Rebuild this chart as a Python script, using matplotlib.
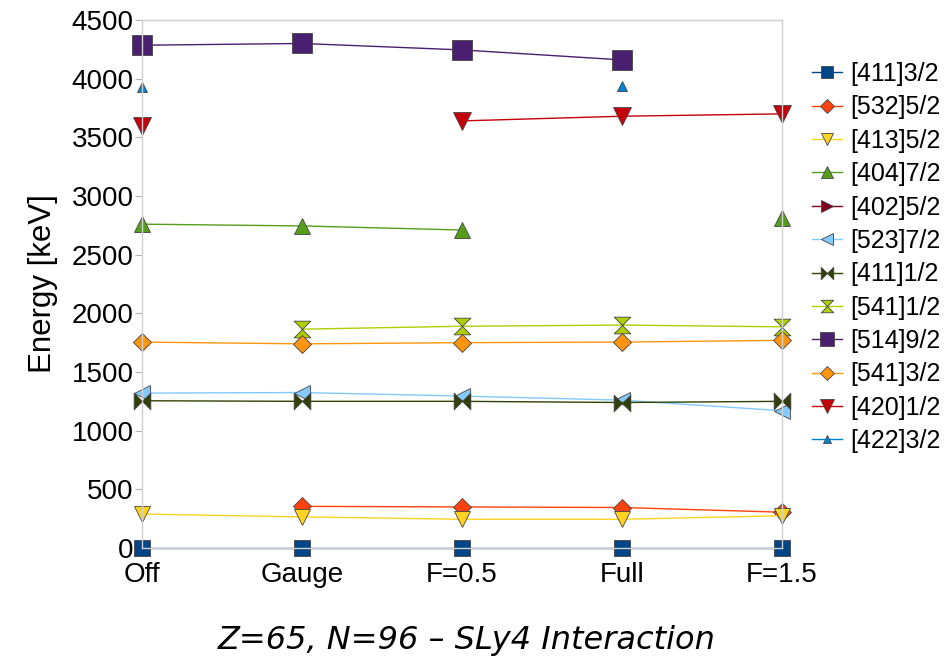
import numpy as np
import matplotlib
matplotlib.use('Agg')
import matplotlib.pyplot as plt
from matplotlib.path import Path

nan = np.nan
categories = ['Off', 'Gauge', 'F=0.5', 'Full', 'F=1.5']
labels = ['[411]3/2', '[532]5/2', '[413]5/2', '[404]7/2', '[402]5/2', '[523]7/2',
          '[411]1/2', '[541]1/2', '[514]9/2', '[541]3/2', '[420]1/2', '[422]3/2']
values = [
    [0, 0, 0, 0, 0],
    [nan, 355, 350, 345, 305],
    [290, 265, 245, 245, 275],
    [2760, 2745, 2710, nan, 2810],
    [nan, nan, nan, nan, nan],
    [1320, 1325, 1295, 1260, 1170],
    [1255, 1250, 1250, 1240, 1250],
    [nan, 1865, 1890, 1900, 1885],
    [4285, 4300, 4245, 4160, nan],
    [1755, 1740, 1750, 1755, 1770],
    [3600, nan, 3640, 3680, 3700],
    [3930, nan, nan, 3935, nan],
]
colors = ['#004586', '#ff420e', '#ffd320', '#579d1c', '#7e0021', '#83caff',
          '#314004', '#aecf00', '#4b1f6f', '#ff950e', '#c5000b', '#0084d1']

bowtie = Path([(-1, -1), (1, 1), (1, -1), (-1, 1), (-1, -1)],
              [Path.MOVETO, Path.LINETO, Path.LINETO, Path.LINETO, Path.CLOSEPOLY])
hourglass = Path([(-1, -1), (1, -1), (-1, 1), (1, 1), (-1, -1)],
                 [Path.MOVETO, Path.LINETO, Path.LINETO, Path.LINETO, Path.CLOSEPOLY])
markers = ['s', 'D', 'v', '^', '>', '<', bowtie, hourglass, 's', 'D', 'v', '^']
sizes = [11, 9, 12, 12, 12, 12, 12, 12, 14, 9, 13, 7]

plt.rcParams['font.family'] = ['Liberation Sans', 'DejaVu Sans']

fig = plt.figure(figsize=(9.53, 6.65), dpi=100)
ax = fig.add_axes([142 / 953, 1 - 548 / 665, (782 - 142) / 953, (548 - 20) / 665])

x = np.arange(len(categories))
for lab, vals, c, m, s in zip(labels, values, colors, markers, sizes):
    ax.plot(x, vals, color=c, lw=1, marker=m, ms=s, mfc=c, mec='#444444',
            mew=0.6, label=lab, clip_on=False)

ax.set_xlim(0, 4)
ax.set_ylim(0, 4500)
ax.set_yticks(range(0, 4501, 500))
ax.set_xticks(x)
ax.set_xticklabels(categories)
ax.tick_params(axis='y', labelsize=20, length=5, color='#b3b3b3', pad=1)
ax.tick_params(axis='x', labelsize=20, length=0, pad=10)
for sp in ax.spines.values():
    sp.set_color('#d0d0d0')
    sp.set_linewidth(1)
ax.set_ylabel('Energy [keV]', fontsize=22.5, labelpad=10)

leg = ax.legend(loc='upper left', frameon=False, fontsize=18, handlelength=1.2,
                handletextpad=0.35, labelspacing=0.375, borderaxespad=0,
                borderpad=0, markerscale=0.75)
leg.set_bbox_to_anchor((812 / 953, 1 - 62 / 665), transform=fig.transFigure)

fig.text(0.49, 1 - 640 / 665, 'Z=65, N=96 \u2013 SLy4 Interaction', ha='center', va='center',
         fontsize=23, style='italic', family='DejaVu Sans')

fig.savefig('out.png', dpi=100)
